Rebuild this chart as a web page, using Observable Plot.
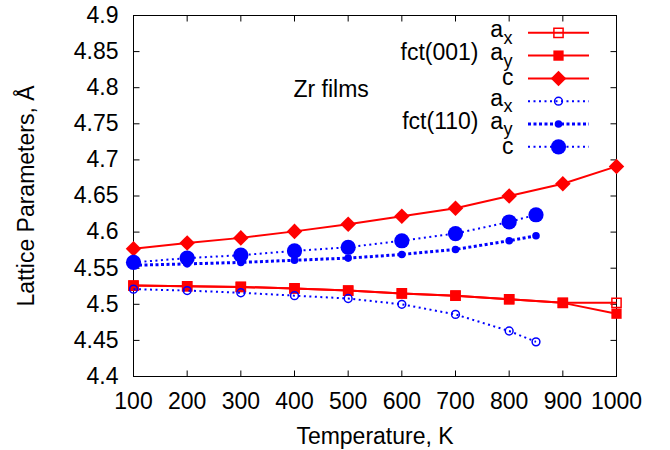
<!DOCTYPE html>
<html><head><meta charset="utf-8">
<script src="https://cdn.jsdelivr.net/npm/d3@7"></script>
<script src="https://cdn.jsdelivr.net/npm/@observablehq/plot@0.6"></script>
<style>html,body{margin:0;padding:0;background:#fff}</style>
</head><body><div id="chart"></div>
<script>
// ---- data ----
const temps001 = [100, 200, 300, 400, 500, 600, 700, 800, 900, 1000];
const ax001 = [4.526, 4.525, 4.524, 4.522, 4.519, 4.515, 4.512, 4.507, 4.502, 4.502];
const ay001 = [4.526, 4.525, 4.524, 4.522, 4.519, 4.515, 4.512, 4.507, 4.502, 4.487];
const c001  = [4.577, 4.585, 4.592, 4.601, 4.611, 4.622, 4.633, 4.650, 4.667, 4.691];

const temps110 = [100, 200, 300, 400, 500, 600, 700, 800, 850];
const ax110 = [4.521, 4.519, 4.516, 4.512, 4.508, 4.500, 4.486, 4.463, 4.448];
const ay110 = [4.554, 4.556, 4.558, 4.561, 4.564, 4.569, 4.576, 4.588, 4.595];
const c110  = [4.558, 4.564, 4.568, 4.574, 4.579, 4.588, 4.598, 4.614, 4.624];

const xTicks = [100, 200, 300, 400, 500, 600, 700, 800, 900, 1000];
const yTicks = [4.4, 4.45, 4.5, 4.55, 4.6, 4.65, 4.7, 4.75, 4.8, 4.85, 4.9];

const xLabel = "Temperature, K";
const yLabel = "Lattice Parameters, Å";
const note = "Zr films";
const groupLabels = ["fct(001)", "fct(110)"];
const legendMain = ["a", "a", "c", "a", "a", "c"];
const legendSub = ["x", "y", "", "x", "y", ""];

// ---- build tables ----
const rows = (ts, vs) => ts.map((t, i) => ({t, v: vs[i]}));
const series = [
  {data: rows(temps001, ax001), color: "#ff0000", width: 2, dash: null, symbol: "square", r: 5.2, fill: "none", sw: 1.5},
  {data: rows(temps001, ay001), color: "#ff0000", width: 2, dash: null, symbol: "square", r: 5.8, fill: "#ff0000", sw: 0},
  {data: rows(temps001, c001), color: "#ff0000", width: 2, dash: null, symbol: "diamond2", r: 7, fill: "#ff0000", sw: 0},
  {data: rows(temps110, ax110), color: "#0000ff", width: 2, dash: "2,3.5", symbol: "circle", r: 3.9, fill: "none", sw: 1.5},
  {data: rows(temps110, ay110), color: "#0000ff", width: 3, dash: "3,2.5", symbol: "circle", r: 3.8, fill: "#0000ff", sw: 0},
  {data: rows(temps110, c110), color: "#0000ff", width: 2, dash: "2,3.5", symbol: "circle", r: 7.6, fill: "#0000ff", sw: 0}
];

// ---- custom symbols: inward tick marks and legend sample line ----
const seg = (x1, y1, x2, y2) => ({draw(c) { c.moveTo(x1, y1); c.lineTo(x2, y2); }});
const TL = 6;
const FONT = "'Liberation Sans', Arial, Helvetica, sans-serif";
const FS = 23;

const ML = 133, MR = 54, MT = 15, MB = 74;
const W = 670, H = 450;

const marks = [];
// tick marks (inside, mirrored)
marks.push(Plot.dot(yTicks, {y: d => d, frameAnchor: "left", symbol: seg(0, 0, TL, 0), fill: "none", stroke: "black", strokeWidth: 1}));
marks.push(Plot.dot(yTicks, {y: d => d, frameAnchor: "right", symbol: seg(0, 0, -TL, 0), fill: "none", stroke: "black", strokeWidth: 1}));
marks.push(Plot.dot(xTicks, {x: d => d, frameAnchor: "bottom", symbol: seg(0, 0, 0, -TL), fill: "none", stroke: "black", strokeWidth: 1}));
marks.push(Plot.dot(xTicks, {x: d => d, frameAnchor: "top", symbol: seg(0, 0, 0, TL), fill: "none", stroke: "black", strokeWidth: 1}));
marks.push(Plot.frame({stroke: "black", strokeWidth: 1}));

marks.push(Plot.axisX({ticks: xTicks, tickSize: 0, tickPadding: 16, label: null, fontSize: FS, fill: "black", tickFormat: d => String(d)}));
marks.push(Plot.axisY({ticks: yTicks, tickSize: 0, tickPadding: 15, label: null, fontSize: FS, fill: "black", tickFormat: d => String(+d.toFixed(2))}));

// axis titles
marks.push(Plot.text([xLabel], {text: d => d, frameAnchor: "bottom", dx: 0, dy: 443 - (H - MB), textAnchor: "middle", lineAnchor: "bottom", fontSize: FS, fill: "black"}));
marks.push(Plot.text([yLabel], {text: d => d, frameAnchor: "left", dx: 33.5 - ML, dy: 0, rotate: -90, textAnchor: "middle", lineAnchor: "bottom", fontSize: FS, fill: "black"}));

// series
for (const s of series) {
  marks.push(Plot.line(s.data, {x: "t", y: "v", stroke: s.color, strokeWidth: s.width, strokeDasharray: s.dash, strokeLinecap: "butt"}));
  marks.push(Plot.dot(s.data, {x: "t", y: "v", symbol: s.symbol, r: s.r, fill: s.fill, stroke: s.sw ? s.color : "none", strokeWidth: s.sw}));
}

// note
marks.push(Plot.text([note], {text: d => d, frameAnchor: "top-left", dx: 293 - ML, dy: 96.5 - MT, textAnchor: "start", lineAnchor: "bottom", fontSize: FS, fill: "black"}));

// legend
const rowY = [32.3, 55.1, 77.9, 100.7, 123.5, 146.3];
const lineX1 = 527.5, lineX2 = 588.5, markX = 558;
series.forEach((s, i) => {
  const y = rowY[i];
  marks.push(Plot.dot([0], {frameAnchor: "top-left", dx: markX - ML, dy: y - MT, symbol: seg(lineX1 - markX, 0, lineX2 - markX, 0), fill: "none", stroke: s.color, strokeWidth: s.width, strokeDasharray: s.dash, strokeLinecap: "butt"}));
  marks.push(Plot.dot([0], {frameAnchor: "top-left", dx: markX - ML, dy: y - MT, symbol: s.symbol, r: s.r, fill: s.fill, stroke: s.sw ? s.color : "none", strokeWidth: s.sw}));
  if (legendSub[i]) {
    marks.push(Plot.text([legendMain[i]], {text: d => d, frameAnchor: "top-left", dx: 502.5 - ML, dy: y + 4.5 - MT, textAnchor: "end", lineAnchor: "bottom", fontSize: FS, fill: "black"}));
    marks.push(Plot.text([legendSub[i]], {text: d => d, frameAnchor: "top-left", dx: 503 - ML, dy: y + 11 - MT, textAnchor: "start", lineAnchor: "bottom", fontSize: 18, fill: "black"}));
  } else {
    marks.push(Plot.text([legendMain[i]], {text: d => d, frameAnchor: "top-left", dx: 513 - ML, dy: y + 7 - MT, textAnchor: "end", lineAnchor: "bottom", fontSize: FS, fill: "black"}));
  }
});
groupLabels.forEach((g, k) => {
  const y = rowY[1 + 3 * k];
  marks.push(Plot.text([g], {text: d => d, frameAnchor: "top-left", dx: 478 - ML, dy: y + 4.5 - MT, textAnchor: "end", lineAnchor: "bottom", fontSize: FS, fill: "black"}));
});

const chart = Plot.plot({
  width: W, height: H,
  marginLeft: ML, marginRight: MR, marginTop: MT, marginBottom: MB,
  x: {type: "linear", domain: [100, 1000]},
  y: {type: "linear", domain: [4.4, 4.9]},
  style: {fontFamily: FONT, fontSize: FS + "px", background: "white", color: "black"},
  marks
});
document.getElementById("chart").appendChild(chart);
</script>
</body></html>
